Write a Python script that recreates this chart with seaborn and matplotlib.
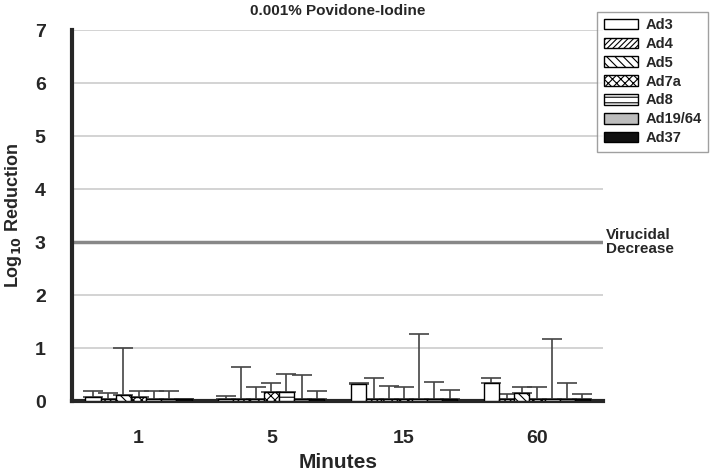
import numpy as np
import pandas as pd
import matplotlib
matplotlib.use("Agg")
import matplotlib.pyplot as plt
import seaborn as sns
from matplotlib.patches import Patch

# Exposure times and adenovirus types
minutes = ['1', '5', '15', '60']
serotypes = ['Ad3', 'Ad4', 'Ad5', 'Ad7a', 'Ad8', 'Ad19/64', 'Ad37']

# Mean log10 reduction (rows: serotype, cols: minutes)
ad3 = [0.08, 0.05, 0.32, 0.34]
ad4 = [0.04, 0.04, 0.04, 0.04]
ad5 = [0.12, 0.04, 0.04, 0.15]
ad7a = [0.07, 0.17, 0.04, 0.04]
ad8 = [0.04, 0.17, 0.04, 0.04]
ad19 = [0.04, 0.04, 0.04, 0.04]
ad37 = [0.04, 0.04, 0.04, 0.04]

# Top of the error bars
ad3_top = [0.19, 0.09, 0.34, 0.43]
ad4_top = [0.15, 0.64, 0.43, 0.13]
ad5_top = [1.00, 0.27, 0.28, 0.26]
ad7a_top = [0.19, 0.34, 0.26, 0.26]
ad8_top = [0.19, 0.51, 1.26, 1.17]
ad19_top = [0.19, 0.49, 0.36, 0.34]
ad37_top = [0.04, 0.19, 0.21, 0.14]

means = [ad3, ad4, ad5, ad7a, ad8, ad19, ad37]
tops = [ad3_top, ad4_top, ad5_top, ad7a_top, ad8_top, ad19_top, ad37_top]

fills = ['white', 'white', 'white', 'white', 'white', '#bdbdbd', '#111111']
hatches = [None, '//////', '\\\\\\\\', 'xxxx', '---', None, None]

rows = []
for s, vals in zip(serotypes, means):
    for m, v in zip(minutes, vals):
        rows.append({'Minutes': m, 'Serotype': s, 'Reduction': v})
df = pd.DataFrame(rows)

sns.set_style("white")
plt.rcParams['font.family'] = ['Liberation Sans', 'DejaVu Sans']
plt.rcParams['font.weight'] = 'bold'
plt.rcParams['hatch.linewidth'] = 0.8

fig = plt.figure(figsize=(7.14, 4.72), dpi=100)
ax = fig.add_axes([0.101, 0.150, 0.744, 0.786])

sns.barplot(data=df, x='Minutes', y='Reduction', hue='Serotype',
            order=minutes, hue_order=serotypes, palette=fills,
            width=0.8, edgecolor='black', linewidth=1, errorbar=None,
            legend=False, ax=ax, zorder=3)

for cont, h, top in zip(ax.containers, hatches, tops):
    xs, ys = [], []
    for bar in cont:
        if h:
            bar.set_hatch(h)
        xs.append(bar.get_x() + bar.get_width() / 2)
        ys.append(bar.get_height())
    ys = np.array(ys)
    err = np.array(top) - ys
    ax.errorbar(xs, ys, yerr=[np.zeros_like(err), err], fmt='none',
                ecolor='#444444', elinewidth=1.2, capsize=7, capthick=1.2,
                zorder=2)

ax.set_xlim(-0.5, 3.5)
ax.set_ylim(0, 7)
ax.set_yticks(range(0, 8))
for yv in [1, 2, 4, 5, 6, 7]:
    ax.axhline(yv, color='#cccccc', lw=1.2, zorder=0)
ax.axhline(3, color='#888888', lw=2.5, zorder=1)
ax.text(3.52, 3.0, 'Virucidal\nDecrease', fontsize=11, fontweight='bold',
        va='center', ha='left', clip_on=False, linespacing=1.05)

sns.despine(ax=ax)
ax.spines['left'].set_linewidth(3)
ax.spines['bottom'].set_linewidth(3)
ax.tick_params(axis='y', length=13, width=2.5, labelsize=14, pad=6)
ax.tick_params(axis='x', length=12, width=2.5, labelsize=14, pad=9)
for lab in ax.get_xticklabels() + ax.get_yticklabels():
    lab.set_fontweight('bold')

ax.set_xlabel('Minutes', fontsize=15, fontweight='bold', labelpad=4)
ax.set_ylabel('Log$_{\\mathbf{10}}$ Reduction', fontsize=13, fontweight='bold',
              labelpad=8)
ax.set_title('0.001% Povidone-Iodine', fontsize=11, fontweight='bold', pad=11)

handles = [Patch(facecolor=f, edgecolor='black', hatch=h, label=s)
           for f, h, s in zip(fills, hatches, serotypes)]
leg = ax.legend(handles=handles, loc='upper left', bbox_to_anchor=(0.989, 1.05),
                frameon=True, fancybox=False, fontsize=10.5, handlelength=2.3,
                handleheight=0.75, handletextpad=0.55, labelspacing=0.33,
                borderpad=0.45, borderaxespad=0)
leg.get_frame().set_edgecolor('#888888')
for t in leg.get_texts():
    t.set_fontweight('bold')

fig.savefig('out.png', dpi=100)
